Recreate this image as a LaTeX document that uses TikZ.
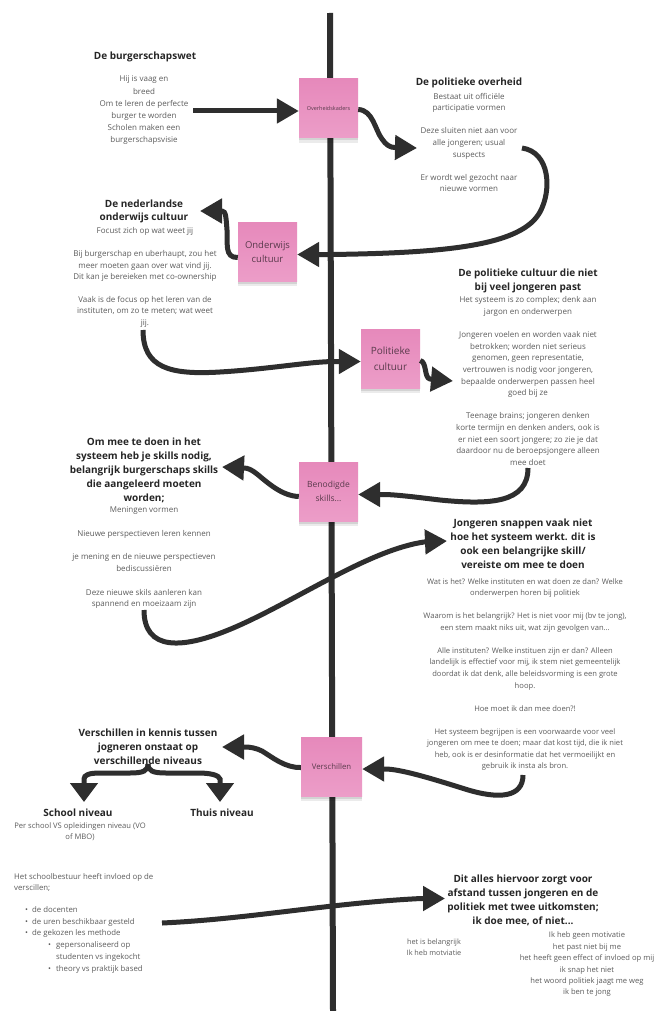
\documentclass[tikz,border=0pt]{standalone}
\usepackage{fontspec}
\setmainfont{Open Sans}
\usetikzlibrary{arrows.meta,calc}
\definecolor{arrowc}{HTML}{2E2E2E}
\definecolor{stickyc}{HTML}{E890C0}
\definecolor{stickytop}{HTML}{E689BB}
\definecolor{stickybot}{HTML}{EC9DC8}
\definecolor{stickytxt}{HTML}{5A3A4C}
\definecolor{titlec}{HTML}{262626}
\definecolor{bodyc}{HTML}{5C5C5C}
\begin{document}
\begin{tikzpicture}[x=1pt,y=-1pt,
  arr/.style={line width=5pt, draw=arrowc, -{Triangle[length=22pt,width=24pt]}},
  brarr/.style={line width=5pt, draw=arrowc, -{Triangle[length=19pt,width=27pt]}},
  spine/.style={line width=6pt, draw=arrowc},
  sticky/.style={top color=stickytop, bottom color=stickybot, minimum width=59pt, minimum height=59pt, inner sep=1pt, align=center, text=stickytxt,
    preaction={fill=black, opacity=0.08, transform canvas={yshift=-5pt}},
    preaction={fill=black, opacity=0.10, transform canvas={yshift=-2.5pt}}},
  title/.style={font=\fontsize{10}{14}\selectfont\bfseries, text=titlec, align=center, inner sep=0pt},
  body/.style={font=\fontsize{8}{11.6}\selectfont, text=bodyc, align=center, inner sep=0pt}]
\fill[white] (0,0) rectangle (668,1011);
\useasboundingbox (0,0) rectangle (668,1011);

% spine
\coordinate (top) at (330,13);
\coordinate (bot) at (333,1011);
\draw[spine] (top) -- (bot);

% sticky notes
\node[sticky, font=\fontsize{5.5}{7}\selectfont] (s1) at (328.5,108.5) {Overheidskaders};
\node[sticky, font=\fontsize{9.5}{14}\selectfont] (s2) at (267.5,251.5) {Onderwijs\\cultuur};
\node[sticky, font=\fontsize{10}{16}\selectfont] (s3) at (390.5,358.5) {Politieke\\cultuur};
\node[sticky, font=\fontsize{8.5}{14}\selectfont] (s4) at (328.5,491.5) {Benodigde\\skills...};
\node[sticky, minimum width=61pt, font=\fontsize{7.8}{10}\selectfont] (s5) at (331.5,766.5) {Verschillen};

% text blocks
\node[title] (bwT) at (145,57) {De burgerschapswet};
\node[body, font=\fontsize{8}{12.2}\selectfont] (bwB) at (144,110.5) {Hij is vaag en\\breed\\Om te leren de perfecte\\burger te worden\\Scholen maken een\\burgerschapsvisie};

\node[title] (poT) at (469,83) {De politieke overheid};
\node[body] (poB) at (469,142.5) {Bestaat uit officiële\\participatie vormen\\[11.6pt]Deze sluiten niet aan voor\\alle jongeren; usual\\suspects\\[11.6pt]Er wordt wel gezocht naar\\nieuwe vormen};

\node[title, font=\fontsize{10}{13}\selectfont\bfseries] (onT) at (144,211.5) {De nederlandse\\onderwijs cultuur};
\node[body, font=\fontsize{8}{11.4}\selectfont] (onB) at (145,277.5) {Focust zich op wat weet jij\\[11.4pt]Bij burgerschap en uberhaupt, zou het\\meer moeten gaan over wat vind jij.\\Dit kan je bereieken met co-ownership\\[11.4pt]Vaak is de focus op het leren van de\\instituten, om zo te meten; wat weet\\jij.};

\node[title] (pcT) at (528,281) {De politieke cultuur die niet\\bij veel jongeren past};
\node[body] (pcB) at (528,381) {Het systeem is zo complex; denk aan\\jargon en onderwerpen\\[11.6pt]Jongeren voelen en worden vaak niet\\betrokken; worden niet serieus\\genomen, geen representatie,\\vertrouwen is nodig voor jongeren,\\bepaalde onderwerpen passen heel\\goed bij ze\\[11.6pt]Teenage brains; jongeren denken\\korte termijn en denken anders, ook is\\er niet een soort jongere; zo zie je dat\\daardoor nu de beroepsjongere alleen\\mee doet};

\node[title] (skT) at (144,470) {Om mee te doen in het\\systeem heb je skills nodig,\\belangrijk burgerschaps skills\\die aangeleerd moeten\\worden;};
\node[body, font=\fontsize{8}{11.75}\selectfont] (skB) at (144,558) {Meningen vormen\\[11.75pt]Nieuwe perspectieven leren kennen\\[11.75pt]je mening en de nieuwe perspectieven\\bediscussiëren\\[11.75pt]Deze nieuwe skils aanleren kan\\spannend en moeizaam zijn};

\node[title] (jsT) at (523,544) {Jongeren snappen vaak niet\\hoe het systeem werkt. dit is\\ook een belangrijke skill/\\vereiste om mee te doen};
\node[body, font=\fontsize{7.6}{11.56}\selectfont] (jsB) at (525,674.5) {Wat is het? Welke instituten en wat doen ze dan? Welke\\onderwerpen horen bij politiek\\[11.56pt]Waarom is het belangrijk? Het is niet voor mij (bv te jong),\\een stem maakt niks uit, wat zijn gevolgen van...\\[11.56pt]Alle instituten? Welke instituen zijn er dan? Alleen\\landelijk is effectief voor mij, ik stem niet gemeentelijk\\doordat ik dat denk, alle beleidsvorming is een grote\\hoop.\\[11.56pt]Hoe moet ik dan mee doen?!\\[11.56pt]Het systeem begrijpen is een voorwaarde voor veel\\jongeren om mee te doen; maar dat kost tijd, die ik niet\\heb, ook is er desinformatie dat het vermoeilijkt en\\gebruik ik insta als bron.};

\node[title] (vkT) at (148,746.5) {Verschillen in kennis tussen\\jogneren onstaat op\\verschillende niveaus};
\node[title] (scT) at (78,813) {School niveau};
\node[body, font=\fontsize{7.6}{11}\selectfont] (scB) at (80,831.5) {Per school VS opleidingen niveau (VO\\of MBO)};
\node[title] (thT) at (222,813) {Thuis niveau};

\node[body, align=left, anchor=north west, font=\fontsize{7.8}{11.7}\selectfont] (sbB) at (14,873) {Het schoolbestuur heeft invloed op de\\verscillen;\\[10pt]%
\hspace*{11pt}\makebox[7pt][l]{•}de docenten\\%
\hspace*{11pt}\makebox[7pt][l]{•}de uren beschikbaar gesteld\\%
\hspace*{11pt}\makebox[7pt][l]{•}de gekozen les methode\\%
\hspace*{34pt}\makebox[8pt][l]{•}gepersonaliseerd op\\%
\hspace*{42pt}studenten vs ingekocht\\%
\hspace*{34pt}\makebox[8pt][l]{•}theory vs praktijk based};

\node[title] (daT) at (523,900.5) {Dit alles hiervoor zorgt voor\\afstand tussen jongeren en de\\politiek met twee uitkomsten;\\ik doe mee, of niet...};
\node[body, font=\fontsize{7.3}{11.4}\selectfont] (jaB) at (434,947.5) {het is belangrijk\\Ik heb motviatie};
\node[body, font=\fontsize{7.6}{11.4}\selectfont] (neeB) at (587,964.5) {Ik heb geen motivatie\\het past niet bij me\\het heeft geen effect of invloed op mij\\ik snap het niet\\het woord politiek jaagt me weg\\ik ben te jong};

% free ends
\coordinate (a1s) at (193,111);
\coordinate (a2e) at (417,148);
\coordinate (a3s) at (522,148);
\coordinate (a4e) at (200,211);
\coordinate (a5s) at (143,330);
\coordinate (a6e) at (453,381);
\coordinate (a7s) at (528,468);
\coordinate (a8e) at (222,467);
\coordinate (a9s) at (144,610);
\coordinate (a9e) at (447,541);
\coordinate (a10s) at (523,775);
\coordinate (a11e) at (222,747);
\coordinate (bc) at (148,764);
\coordinate (blt) at (84,802);
\coordinate (brt) at (220,802);
\coordinate (a12s) at (162,923);
\coordinate (a12e) at (445,898.5);

% connectors
\draw[arr] (a1s) -- (s1.west |- a1s);
\draw[arr] ([yshift=-1pt]s1.east) .. controls (373,110) and (375,130) .. (382,139) .. controls (386,145) and (390,147.5) .. (395,147.5) -- (a2e);
\draw[arr] (a3s) .. controls (550,152) and (552,190) .. (540,212) .. controls (522,245) and (450,253) .. (330,254.5) -- ([yshift=-3pt]s2.east);
\draw[arr] ([yshift=-6pt]s2.west) .. controls (224,258) and (228,243) .. (227,230) .. controls (226,218) and (226,211) .. (222,211) -- (a4e);
\draw[arr] (a5s) .. controls (143,368) and (170,375) .. (220,372) .. controls (270,369) and (310,361.5) .. (335,361.5) -- ([yshift=-3pt]s3.west);
\draw[arr] ([yshift=-2pt]s3.east) .. controls (427,362) and (424,378) .. (430,379) -- (a6e);
\draw[arr] (a7s) .. controls (528,503) and (490,505) .. (440,500) .. controls (415,497) and (395,494.5) .. (383,494.5) -- ([yshift=-3pt]s4.east);
\draw[arr] ([yshift=-5pt]s4.west) .. controls (282,496) and (268,483) .. (257,474) .. controls (252,470) and (248,468) .. (244,468) -- (a8e);
\draw[arr] (a9s) .. controls (144,650) and (180,652) .. (240,625) .. controls (300,598) and (370,550) .. (424,542) -- (a9e);
\draw[arr] (a10s) .. controls (523,797) and (500,800) .. (465,789) .. controls (430,778) and (400,769) .. (385,769) -- ([yshift=-2.5pt]s5.east);
\draw[arr] ([yshift=-1pt]s5.west) .. controls (285,768) and (272,757) .. (262,751) .. controls (256,748) and (250,747) .. (245,747) -- (a11e);
\draw[brarr] (bc) .. controls (148,771) and (143,773) .. (130,773) -- (100,773) .. controls (89,773) and (84,775) .. (84,779) -- (blt);
\draw[brarr] (bc) .. controls (148,771) and (153,773) .. (166,773) -- (198,773) .. controls (210,773) and (219,775) .. (220,779) -- (brt);
\draw[arr] (a12s) .. controls (250,919) and (330,903) .. (421,898.5) -- (a12e);
\end{tikzpicture}
\end{document}
